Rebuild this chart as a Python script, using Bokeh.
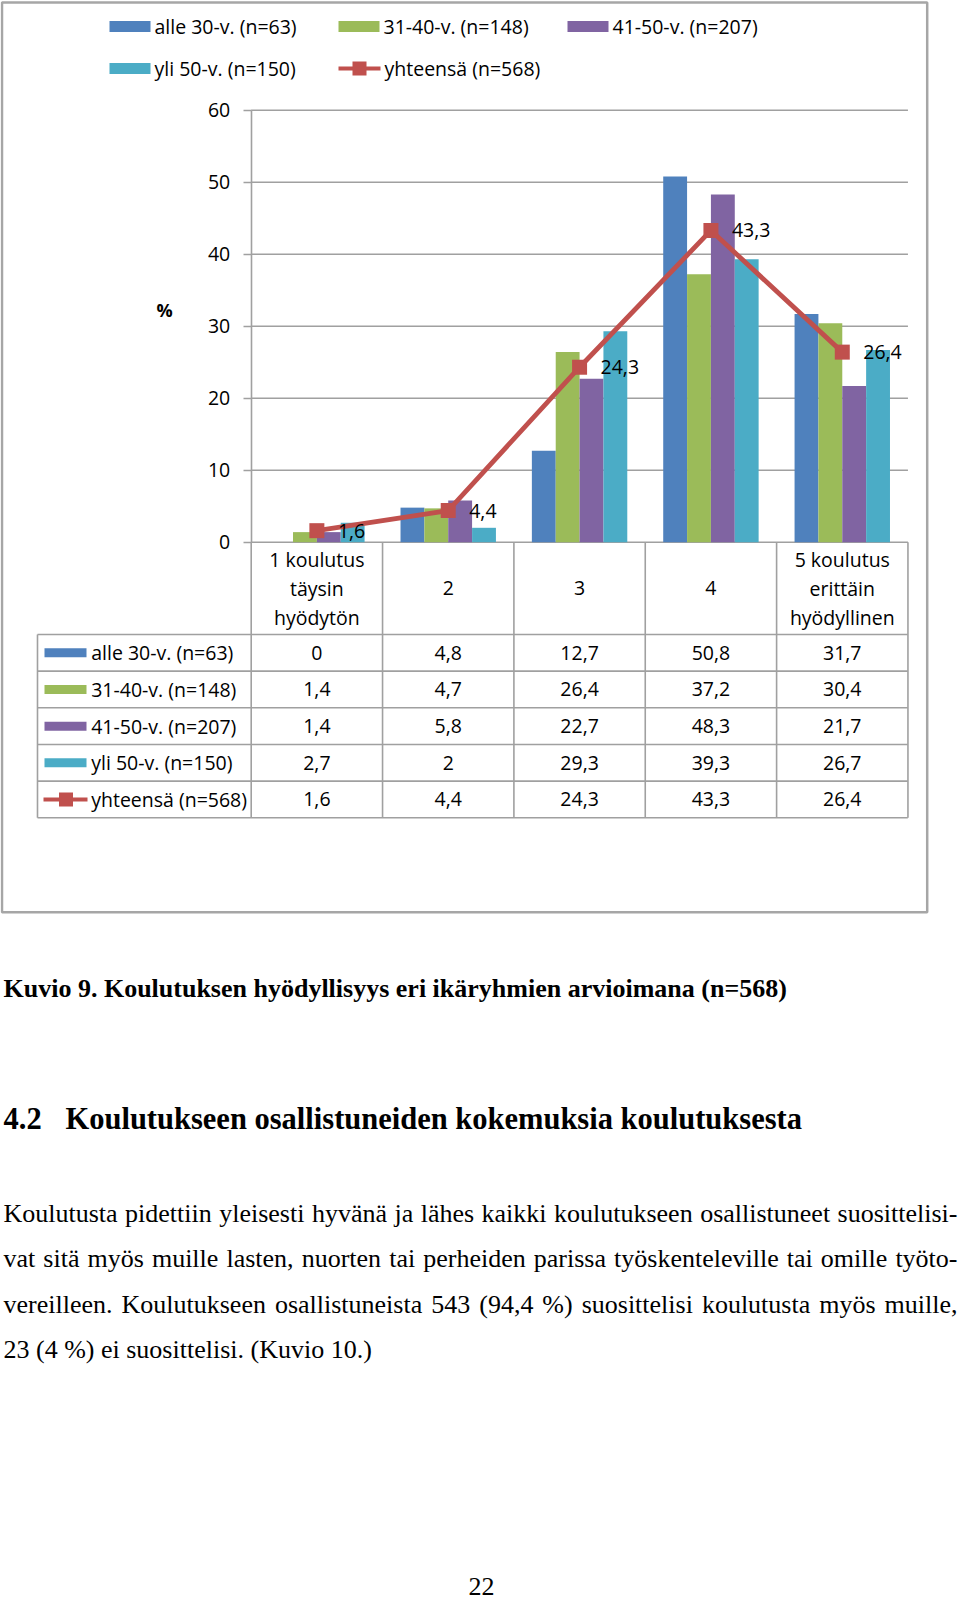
from bokeh.plotting import figure
from bokeh.models import Range1d, LinearAxis, FixedTicker, ColumnDataSource
from bokeh.core.properties import value
from bokeh.transform import dodge
from bokeh.embed import file_html
from bokeh.resources import INLINE

# ---------------- data ----------------
categories = ["1 koulutus\ntäysin\nhyödytön", "2", "3", "4", "5 koulutus\nerittäin\nhyödyllinen"]
series_names = ["alle 30-v. (n=63)", "31-40-v. (n=148)", "41-50-v. (n=207)", "yli 50-v. (n=150)"]
alle_30 = [0, 4.8, 12.7, 50.8, 31.7]
v31_40 = [1.4, 4.7, 26.4, 37.2, 30.4]
v41_50 = [1.4, 5.8, 22.7, 48.3, 21.7]
yli_50 = [2.7, 2, 29.3, 39.3, 26.7]
total_name = "yhteensä (n=568)"
total = [1.6, 4.4, 24.3, 43.3, 26.4]
y_ticks = [0, 10, 20, 30, 40, 50, 60]
y_title = "%"

caption = "Kuvio 9. Koulutuksen hyödyllisyys eri ikäryhmien arvioimana (n=568)"
heading_num = "4.2"
heading_text = "Koulutukseen osallistuneiden kokemuksia koulutuksesta"
body_lines = [
    "Koulutusta pidettiin yleisesti hyvänä ja lähes kaikki koulutukseen osallistuneet suosittelisi-",
    "vat sitä myös muille lasten, nuorten tai perheiden parissa työskenteleville tai omille työto-",
    "vereilleen. Koulutukseen osallistuneista 543 (94,4 %) suosittelisi koulutusta myös muille,",
    "23 (4 %) ei suosittelisi. (Kuvio 10.)",
]
page_number = "22"

# ---------------- style / layout ----------------
colors = ["#4F81BD", "#9BBB59", "#8064A2", "#4BACC6"]
red = "#C0504D"
grid_col = "#A0A0A0"
CF = value("Open Sans")
SF = value("Liberation Serif")
CFS = "19.5px"

W, H = 960, 1601
X0, CW = 250.7, 131.35      # category axis origin (px) and slot width (px)
Y0, PU = 541.7, 7.2         # zero line (px) and px per percent
TBL_L, TBL_R = 37, 907.3
HDR_B, ROW_H = 634, 36.66

def fmt(v):
    return f"{v:g}".replace(".", ",")

# Times / Liberation Serif advance widths (per em) for justified body text
_TW = {' ': .25, 'a': .444, 'b': .5, 'c': .444, 'd': .5, 'e': .444, 'f': .333, 'g': .5, 'h': .5,
       'i': .278, 'j': .278, 'k': .5, 'l': .278, 'm': .778, 'n': .5, 'o': .5, 'p': .5, 'q': .5,
       'r': .333, 's': .389, 't': .278, 'u': .5, 'v': .5, 'w': .722, 'x': .5, 'y': .5, 'z': .444,
       'ä': .444, 'ö': .5, 'K': .722, ',': .25, '.': .25, '-': .333, '(': .333, ')': .333, '%': .833}

def tw(word, size):
    return sum(_TW.get(ch, .5) for ch in word) * size

p = figure(width=W, height=H, output_backend="svg", toolbar_location=None,
           x_axis_type=None, y_axis_type=None, min_border=0,
           x_range=Range1d(0, W), y_range=Range1d(H, 0))
p.outline_line_color = None
p.background_fill_color = "white"
p.border_fill_color = "white"
p.extra_x_ranges = {"cat": Range1d(-X0 / CW, (W - X0) / CW)}
p.extra_y_ranges = {"pct": Range1d((Y0 - H) / PU, Y0 / PU)}
CAT = dict(x_range_name="cat")
PCT = dict(x_range_name="cat", y_range_name="pct")

# outer chart border
p.quad(left=[1.5], right=[926.7], top=[2], bottom=[911.7], fill_color=None,
       line_color="#A6A6A6", line_width=2.5)

# gridlines from the tick values
p.segment(x0=[0] * len(y_ticks), x1=[len(categories)] * len(y_ticks), y0=y_ticks, y1=y_ticks,
          line_color=grid_col, line_width=1.6, **PCT)

# y axis at the category origin
yaxis = LinearAxis(y_range_name="pct", fixed_location=X0, bounds=(0, 60),
                   ticker=FixedTicker(ticks=y_ticks))
yaxis.axis_line_color = grid_col
yaxis.axis_line_width = 1.6
yaxis.major_tick_line_color = grid_col
yaxis.major_tick_line_width = 1.6
yaxis.major_tick_out = 8
yaxis.major_tick_in = 0
yaxis.minor_tick_out = 0
yaxis.minor_tick_in = 0
yaxis.major_label_text_font = "Open Sans"
yaxis.major_label_text_font_size = CFS
yaxis.major_label_text_color = "black"
yaxis.major_label_standoff = 13
p.add_layout(yaxis, "left")

p.text(x=[164], y=[309], text=[y_title], text_font=CF, text_font_size="18px",
       text_font_style="bold", text_align="center", text_baseline="middle")

# bars
xs = [i + 0.5 for i in range(len(categories))]
src = ColumnDataSource(dict(x=xs, a=alle_30, b=v31_40, c=v41_50, d=yli_50, t=total,
                            tl=[fmt(v) for v in total]))
bw = 0.1816
for k, (field, col) in enumerate(zip(["a", "b", "c", "d"], colors)):
    p.vbar(x=dodge("x", (k - 1.5) * bw), top=field, bottom=0, width=bw, source=src,
           fill_color=col, line_color=None, **PCT)

# total line
p.line(x="x", y="t", source=src, line_color=red, line_width=4.8, **PCT)
p.scatter(x="x", y="t", source=src, marker="square", size=15, fill_color=red,
          line_color=None, **PCT)
p.text(x="x", y="t", text="tl", source=src, x_offset=21, text_font=CF, text_font_size=CFS,
       text_align="left", text_baseline="middle", **PCT)

# legend at the top
leg_pos = [(109, 26), (338, 26), (567, 26), (109, 68)]
for (lx, ly), name, col in zip(leg_pos, series_names, colors):
    p.quad(left=[lx], right=[lx + 41], top=[ly - 5.5], bottom=[ly + 5.5], fill_color=col, line_color=None)
    p.text(x=[lx + 45], y=[ly], text=[name], text_font=CF, text_font_size=CFS,
           text_baseline="middle", text_align="left")
lx, ly = 338, 68
p.segment(x0=[lx], x1=[lx + 42], y0=[ly], y1=[ly], line_color=red, line_width=4)
p.scatter(x=[lx + 21], y=[ly], marker="square", size=14, fill_color=red, line_color=None)
p.text(x=[lx + 46], y=[ly], text=[total_name], text_font=CF, text_font_size=CFS,
       text_baseline="middle", text_align="left")

# data table
n_rows = len(series_names) + 1
row_lines = [HDR_B + k * ROW_H for k in range(n_rows + 1)]
p.segment(x0=[TBL_L] * len(row_lines), x1=[TBL_R] * len(row_lines), y0=row_lines, y1=row_lines,
          line_color=grid_col, line_width=1.6)
p.segment(x0=list(range(len(categories) + 1)), x1=list(range(len(categories) + 1)),
          y0=[Y0] * (len(categories) + 1), y1=[row_lines[-1]] * (len(categories) + 1),
          line_color=grid_col, line_width=1.6, **CAT)
p.segment(x0=[TBL_L], x1=[TBL_L], y0=[HDR_B], y1=[row_lines[-1]], line_color=grid_col, line_width=1.6)

p.text(x=xs, y=[(Y0 + HDR_B) / 2] * len(xs), text=categories, text_font=CF, text_font_size=CFS,
       text_align="center", text_baseline="middle", text_line_height=1.08, **CAT)

rows = [alle_30, v31_40, v41_50, yli_50, total]
row_names = series_names + [total_name]
for r, (vals, name) in enumerate(zip(rows, row_names)):
    cy = HDR_B + (r + 0.5) * ROW_H
    p.text(x=xs, y=[cy] * len(xs), text=[fmt(v) for v in vals], text_font=CF, text_font_size=CFS,
           text_align="center", text_baseline="middle", **CAT)
    if r < len(colors):
        p.quad(left=[44], right=[86], top=[cy - 4.5], bottom=[cy + 4.5], fill_color=colors[r], line_color=None)
    else:
        p.segment(x0=[43], x1=[87], y0=[cy], y1=[cy], line_color=red, line_width=4)
        p.scatter(x=[65.5], y=[cy], marker="square", size=14, fill_color=red, line_color=None)
    p.text(x=[90.7], y=[cy], text=[name], text_font=CF, text_font_size=CFS,
           text_align="left", text_baseline="middle")

# caption, heading
p.text(x=[3], y=[988], text=[caption], text_font=SF, text_font_size="26px", text_font_style="bold",
       text_baseline="middle")
p.text(x=[3], y=[1118], text=[heading_num], text_font=SF, text_font_size="30.5px", text_font_style="bold",
       text_baseline="middle")
p.text(x=[65], y=[1118], text=[heading_text], text_font=SF, text_font_size="30.5px", text_font_style="bold",
       text_baseline="middle")

# body text (justified lines, last line left-aligned)
BODY_SIZE = 26
BODY_L, BODY_R = 3, 957
body_y = [1213, 1258, 1304, 1349]
wx, wy, wt = [], [], []
for i, (line, ly) in enumerate(zip(body_lines, body_y)):
    if i == len(body_lines) - 1:
        wx.append(BODY_L); wy.append(ly); wt.append(line)
        continue
    words = line.split(" ")
    widths = [tw(w, BODY_SIZE) for w in words]
    gap = (BODY_R - BODY_L - sum(widths)) / (len(words) - 1)
    x = BODY_L
    for w, ww in zip(words, widths):
        wx.append(x); wy.append(ly); wt.append(w)
        x += ww + gap
p.text(x=wx, y=wy, text=wt, text_font=SF, text_font_size=f"{BODY_SIZE}px", text_baseline="middle")

p.text(x=[481], y=[1586], text=[page_number], text_font=SF, text_font_size="26px",
       text_align="center", text_baseline="middle")

open("out.html", "w").write(file_html(p, INLINE))
